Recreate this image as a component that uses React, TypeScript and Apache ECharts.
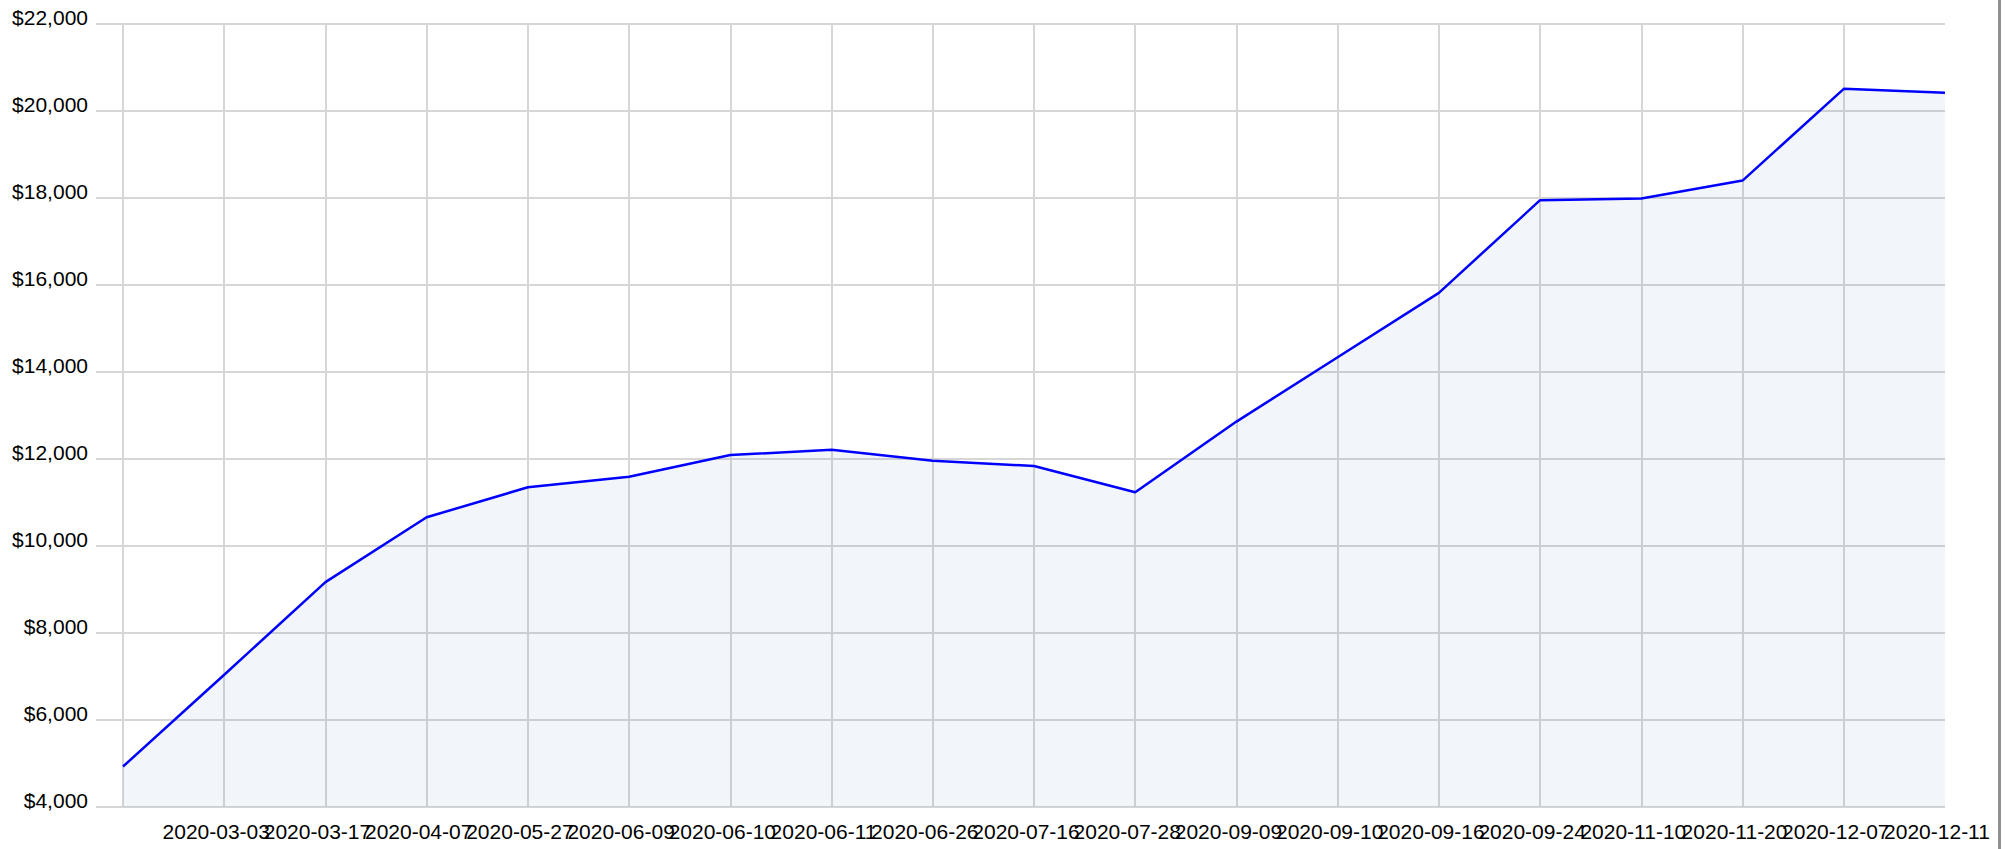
import React, { useEffect, useRef } from "react";
import * as echarts from "echarts";

const categories: string[] = [
  "",
  "2020-03-03",
  "2020-03-17",
  "2020-04-07",
  "2020-05-27",
  "2020-06-09",
  "2020-06-10",
  "2020-06-11",
  "2020-06-26",
  "2020-07-16",
  "2020-07-28",
  "2020-09-09",
  "2020-09-10",
  "2020-09-16",
  "2020-09-24",
  "2020-11-10",
  "2020-11-20",
  "2020-12-07",
  "2020-12-11",
];

const values: number[] = [
  4930, 7040, 9170, 10660, 11350, 11590, 12090, 12210, 11960, 11840, 11235,
  12860, 14340, 15820, 17950, 17990, 18400, 20510, 20420,
];

const yMin = 4000;
const yMax = 22000;
const yStep = 2000;

const FONT = "'Liberation Sans', Arial, Helvetica, sans-serif";
const GRID_COLOR = "#d6d6d6";

export default function App() {
  const ref = useRef<HTMLDivElement>(null);

  useEffect(() => {
    if (!ref.current) return;
    const chart = echarts.init(ref.current, undefined, { renderer: "svg" });
    const lastIndex = categories.length - 1;
    chart.setOption({
      animation: false,
      backgroundColor: "#ffffff",
      grid: { left: 123, right: 60, top: 24, bottom: 42, containLabel: false },
      xAxis: {
        type: "category",
        data: categories,
        boundaryGap: false,
        axisLine: { show: false },
        axisTick: { show: false },
        axisLabel: {
          interval: 0,
          hideOverlap: false,
          color: "#000",
          fontFamily: FONT,
          fontSize: 21,
          margin: 14,
          align: "center",
          padding: [0, 16, 0, 0],
        },
        splitLine: {
          show: true,
          interval: (index: number) => index < lastIndex,
          lineStyle: { color: GRID_COLOR, width: 2 },
        },
      },
      yAxis: {
        type: "value",
        min: yMin,
        max: yMax,
        interval: yStep,
        axisLine: { show: false },
        axisTick: {
          show: true,
          length: 27,
          lineStyle: { color: GRID_COLOR, width: 2 },
        },
        axisLabel: {
          color: "#000",
          fontFamily: FONT,
          fontSize: 21,
          margin: 35,
          verticalAlign: "bottom",
          lineHeight: 14,
          formatter: (v: number) => "$" + v.toLocaleString("en-US"),
        },
        splitLine: { show: true, lineStyle: { color: GRID_COLOR, width: 2 } },
      },
      series: [
        {
          type: "line",
          data: values,
          symbol: "none",
          lineStyle: { color: "#0000ff", width: 2.5 },
          itemStyle: { color: "#0000ff" },
          areaStyle: { color: "rgba(36,105,173,0.085)" },
        },
      ],
      graphic: [
        {
          type: "rect",
          left: 1998,
          top: 0,
          shape: { width: 3, height: 849 },
          style: { fill: "#8f8f8f" },
          silent: true,
        },
      ],
    });
    return () => chart.dispose();
  }, []);

  return (
    <div
      ref={ref}
      style={{ position: "fixed", left: 0, top: 0, width: 2005, height: 849 }}
    />
  );
}
